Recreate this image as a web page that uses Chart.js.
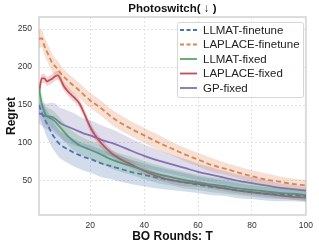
<!DOCTYPE html>
<html>
<head>
<meta charset="utf-8">
<script src="https://cdn.jsdelivr.net/npm/chart.js@4"></script>
<style>
  html,body{margin:0;padding:0;background:#fff}
  #wrap{width:319px;height:248px}
</style>
</head>
<body>
<div id="wrap"><canvas id="chart" width="319" height="248"></canvas></div>
<script>
// BO rounds sampled from the figure
const rounds = [1,2,3,4,5,6,7,8,9,10,12,14,16,18,20,22,25,28,31,35,40,45,50,55,60,65,70,75,80,85,90,95,100];

// mean regret per method
const llmatFinetune   = [150,140,132,125,118,111,106,101,97,95,91,87,84,81,79,76,72,69,66,62,58,54,51,48,45,42,40,37,35,33,32,31,30];
const laplaceFinetune = [237,238,228,220,212,205,201,197,192,188,181,175,169,162,156,151,143,134,127,119,110,101,93,85,78,71,66,61,56,52,49,46,44];
const llmatFixed      = [172,152,141,135,133,131,128,124,120,116,108,102,97,94,91,88,83,78,74,70,64,59,55,51,48,45,43,40,38,36,34,33,31];
const laplaceFixed    = [165,185,185,181,183,185,188,189,184,176,167,160,152,137,121,109,96,86,79,72,63,56,51,48,46,43,40,37,35,33,31,29,28];
const gpFixed         = [139,138,136,135,135,134,132,129,126,124,121,118,115,112,110,107,103,100,96,90,83,77,72,67,62,58,54,50,47,44,41,39,37];

// half-width of the shaded bands
const llmatFinetuneSpread   = [12,14,16,18,18,18,18,18,18,18,18,18,18,18,18,18,18,17,17,16,15,14,13,12,11,11,10,10,9,9,9,8,8];
const laplaceFinetuneSpread = [12,12,12,12,12,12,11,11,11,10,10,10,10,10,10,10,10,10,10,10,10,10,9,9,9,9,8,8,8,8,7,7,7];
const llmatFixedSpread      = [10,12,12,12,12,12,12,12,12,12,12,12,12,12,12,12,12,12,12,12,12,12,11,11,10,10,10,9,9,9,8,8,8];
const laplaceFixedSpread    = [6,6,6,6,6,6,6,6,6,6,6,6,6,6,6,6,6,5,5,5,5,5,5,5,4,4,4,4,4,4,4,4,4];
const gpFixedSpread         = [13,15,16,17,18,19,20,20,20,21,21,21,20,20,20,20,19,18,17,16,15,14,13,12,11,10,9,8,8,7,6,6,5];

const xTicks = [20,40,60,80,100];
const yTicks = [50,100,150,200,250];

const series = [
  {label:'LLMAT-finetune',   mean:llmatFinetune,   spread:llmatFinetuneSpread,   color:'76,114,176', dash:[5,3]},
  {label:'LAPLACE-finetune', mean:laplaceFinetune, spread:laplaceFinetuneSpread, color:'221,132,82', dash:[5,3]},
  {label:'LLMAT-fixed',      mean:llmatFixed,      spread:llmatFixedSpread,      color:'85,168,104', dash:[]},
  {label:'LAPLACE-fixed',    mean:laplaceFixed,    spread:laplaceFixedSpread,    color:'196,78,82',  dash:[]},
  {label:'GP-fixed',         mean:gpFixed,         spread:gpFixedSpread,         color:'129,114,179', dash:[]}
];

const pts = arr => arr.map((v,i)=>({x:rounds[i], y:v}));

const datasets = [];
series.forEach(s=>{
  datasets.push({
    data: pts(s.mean.map((v,i)=>v - s.spread[i])),
    borderColor:'rgba(0,0,0,0)', borderWidth:0, pointRadius:0, fill:false,
    cubicInterpolationMode:'monotone'
  });
  datasets.push({
    data: pts(s.mean.map((v,i)=>v + s.spread[i])),
    borderColor:'rgba(0,0,0,0)', borderWidth:0, pointRadius:0,
    backgroundColor:`rgba(${s.color},0.25)`, fill:'-1',
    cubicInterpolationMode:'monotone'
  });
});
series.forEach(s=>{
  datasets.push({
    label:s.label,
    data: pts(s.mean),
    borderColor:`rgb(${s.color})`, borderWidth:1.8, borderDash:s.dash,
    pointRadius:0, fill:false, cubicInterpolationMode:'monotone'
  });
});

const FONT = '"Liberation Sans", Arial, sans-serif';

const frameAndText = {
  id:'frameAndText',
  beforeDatasetsDraw(chart){
    const {ctx, chartArea:a} = chart;
    ctx.save();
    ctx.strokeStyle = '#dcdcdc';
    ctx.lineWidth = 2;
    ctx.strokeRect(a.left, a.top, a.right - a.left, a.bottom - a.top);
    ctx.restore();
  },
  afterDraw(chart){
    const {ctx, chartArea:a} = chart;
    ctx.save();
    // title
    ctx.fillStyle = '#111';
    ctx.font = 'bold 11.5px ' + FONT;
    ctx.textAlign = 'center';
    ctx.textBaseline = 'middle';
    ctx.fillText('Photoswitch( \u2193 )', (a.left + a.right)/2, 9);

    // legend
    const bx = 177, by = 22, bw = 126, bh = 75;
    ctx.fillStyle = 'rgba(255,255,255,0.8)';
    ctx.strokeStyle = '#d6d6d6';
    ctx.lineWidth = 1;
    ctx.beginPath();
    ctx.roundRect(bx + 0.5, by + 0.5, bw, bh, 2);
    ctx.fill();
    ctx.stroke();
    ctx.font = '11.5px ' + FONT;
    ctx.textAlign = 'left';
    series.forEach((s,i)=>{
      const y = 30 + i*14.5;
      ctx.strokeStyle = `rgb(${s.color})`;
      ctx.lineWidth = 1.8;
      ctx.setLineDash(s.dash.length ? [4,2.5] : []);
      ctx.beginPath();
      ctx.moveTo(180, y);
      ctx.lineTo(197, y);
      ctx.stroke();
      ctx.setLineDash([]);
      ctx.fillStyle = '#222';
      ctx.fillText(s.label, 203, y + 0.5);
    });
    ctx.restore();
  }
};

new Chart(document.getElementById('chart'), {
  type:'line',
  data:{datasets},
  options:{
    responsive:false,
    animation:false,
    layout:{padding:{top:17, right:12, left:0, bottom:0}},
    plugins:{legend:{display:false}, title:{display:false}, tooltip:{enabled:false}},
    scales:{
      x:{
        type:'linear', min:1, max:100,
        afterBuildTicks: ax => { ax.ticks = xTicks.map(v=>({value:v})); },
        afterFit: ax => { ax.height = 33; },
        grid:{color:'#e2e2e2', drawTicks:false, tickLength:0, borderDash:[2,2]},
        border:{display:false, dash:[2,2]},
        ticks:{color:'#333', font:{family:FONT, size:8.5}, padding:6, maxRotation:0},
        title:{display:true, text:'BO Rounds: T', color:'#111', font:{family:FONT, size:12, weight:'bold'}, padding:{top:0}}
      },
      y:{
        min:5, max:266,
        afterBuildTicks: ax => { ax.ticks = yTicks.map(v=>({value:v})); },
        afterFit: ax => { ax.width = 39; },
        grid:{color:'#e2e2e2', drawTicks:false, tickLength:0, borderDash:[2,2]},
        border:{display:false, dash:[2,2]},
        ticks:{color:'#333', font:{family:FONT, size:8.5}, padding:7},
        title:{display:true, text:'Regret', color:'#111', font:{family:FONT, size:12, weight:'bold'}, padding:{bottom:0}}
      }
    }
  },
  plugins:[frameAndText]
});
</script>
</body>
</html>
